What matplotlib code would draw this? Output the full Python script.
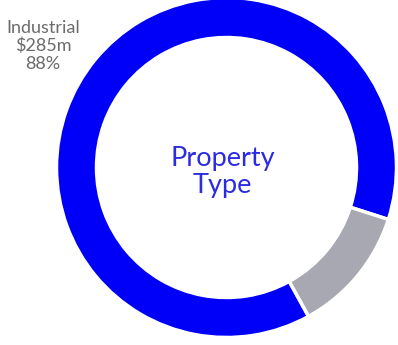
#!/usr/bin/env python3
"""
Property type donut chart.
"""

import matplotlib
matplotlib.use('Agg')
import matplotlib.pyplot as plt

# Portfolio split by property type ($m)
categories = ['Industrial', 'Other']
values = [285, 39]
colors = ['#0000f8', '#a8a8b2']

W, H = 398, 345
plt.rcParams['font.family'] = ['Lato', 'DejaVu Sans']


def main():
    fig = plt.figure(figsize=(W / 100, H / 100), dpi=100)
    ax = fig.add_axes([0, 0, 1, 1])

    cx, cy = 226.5, H - 167.5
    outer = 170
    ring = 40

    ax.pie(values, colors=colors, startangle=-17.8, counterclock=True,
           radius=outer, center=(cx, cy), frame=True,
           wedgeprops=dict(width=ring, edgecolor='white', linewidth=2.5))

    ax.set_xlim(0, W)
    ax.set_ylim(0, H)
    ax.set_aspect('equal')
    ax.axis('off')

    # Centre title
    ax.text(cx - 4, H - 172, 'Property\nType', ha='center', va='center',
            fontsize=19.5, color='#2b2be0', linespacing=1.12)

    # Label for the main slice
    total = sum(values)
    pct = values[0] / total * 100
    ax.text(43, H - 46, f'{categories[0]}\n${values[0]}m\n{pct:.0f}%',
            ha='center', va='center', fontsize=13, color='#6b6b6b',
            linespacing=1.12)

    fig.savefig('out.png', dpi=100)
    plt.close(fig)


if __name__ == '__main__':
    main()
